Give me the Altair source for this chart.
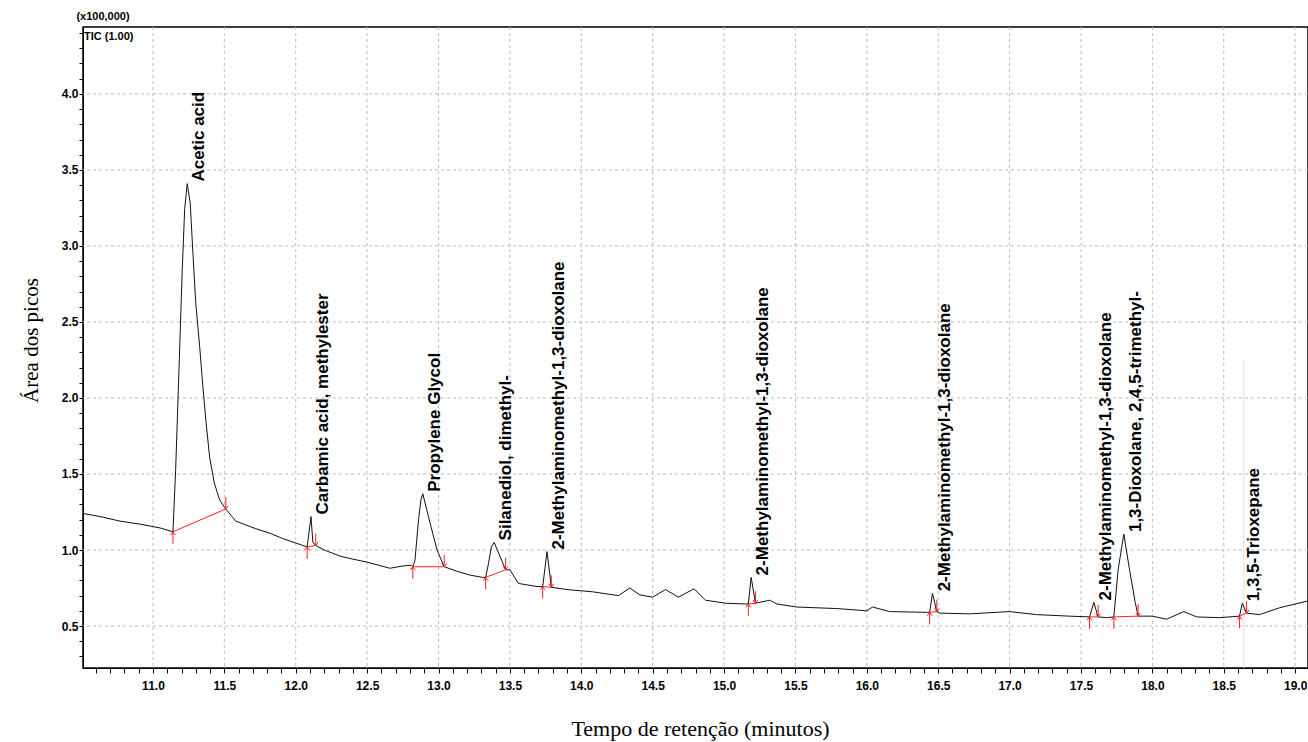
import altair as alt
import pandas as pd

# ---- chromatogram trace (retention time in minutes, intensity x100,000) ----
trace_t = [10.51, 10.63, 10.77, 10.91, 11.05, 11.14, 11.159, 11.182, 11.205, 11.222,
           11.24, 11.261, 11.28, 11.30, 11.327, 11.35, 11.373, 11.397, 11.43, 11.467,
           11.51, 11.58, 11.72, 11.82, 11.91, 12.05, 12.08, 12.107, 12.12, 12.14,
           12.20, 12.31, 12.40, 12.50, 12.66, 12.75, 12.81, 12.82, 12.835, 12.86,
           12.877, 12.89, 12.94, 12.99, 13.04, 13.13, 13.22, 13.31, 13.33, 13.35,
           13.37, 13.39, 13.43, 13.47, 13.50, 13.56, 13.69, 13.73, 13.76, 13.79,
           13.90, 14.08, 14.26, 14.34, 14.41, 14.50, 14.59, 14.68, 14.79, 14.87,
           15.01, 15.15, 15.17, 15.19, 15.22, 15.32, 15.37, 15.51, 15.79, 16.00,
           16.04, 16.16, 16.42, 16.44, 16.46, 16.49, 16.51, 16.72, 17.00, 17.19,
           17.42, 17.56, 17.59, 17.62, 17.68, 17.73, 17.76, 17.80, 17.84, 17.88,
           17.90, 18.00, 18.10, 18.22, 18.31, 18.47, 18.61, 18.63, 18.66, 18.75,
           18.89, 19.09]
trace_v = [1.24, 1.22, 1.19, 1.17, 1.145, 1.12, 1.53, 2.18, 2.84, 3.24,
           3.41, 3.28, 2.95, 2.62, 2.34, 2.07, 1.83, 1.61, 1.44, 1.33,
           1.27, 1.19, 1.14, 1.11, 1.075, 1.03, 1.02, 1.22, 1.05, 1.03,
           1.00, 0.96, 0.94, 0.92, 0.88, 0.895, 0.90, 0.89, 0.93, 1.20,
           1.33, 1.37, 1.18, 1.00, 0.89, 0.86, 0.835, 0.82, 0.82, 0.91,
           1.02, 1.05, 0.96, 0.87, 0.87, 0.78, 0.76, 0.76, 0.99, 0.755,
           0.74, 0.725, 0.70, 0.75, 0.705, 0.69, 0.74, 0.69, 0.745, 0.67,
           0.65, 0.645, 0.645, 0.82, 0.65, 0.67, 0.645, 0.625, 0.615, 0.60,
           0.625, 0.595, 0.59, 0.59, 0.715, 0.595, 0.585, 0.58, 0.595, 0.575,
           0.565, 0.56, 0.655, 0.56, 0.555, 0.56, 0.87, 1.105, 0.87, 0.655,
           0.565, 0.565, 0.545, 0.595, 0.56, 0.555, 0.565, 0.65, 0.585, 0.575,
           0.62, 0.665]

# ---- identified peaks ----
peak_names = ["Acetic acid", "Carbamic acid, methylester", "Propylene Glycol",
              "Silanediol, dimethyl-", "2-Methylaminomethyl-1,3-dioxolane",
              "2-Methylaminomethyl-1,3-dioxolane", "2-Methylaminomethyl-1,3-dioxolane",
              "2-Methylaminomethyl-1,3-dioxolane", "1,3-Dioxolane, 2,4,5-trimethyl-",
              "1,3,5-Trioxepane"]
apex_t = [11.24, 12.107, 12.89, 13.39, 13.76, 15.19, 16.46, 17.59, 17.80, 18.63]
apex_v = [3.41, 1.22, 1.37, 1.05, 0.99, 0.82, 0.715, 0.655, 1.105, 0.65]
start_t = [11.14, 12.08, 12.82, 13.33, 13.73, 15.17, 16.44, 17.56, 17.73, 18.61]
start_v = [1.12, 1.02, 0.89, 0.82, 0.76, 0.645, 0.59, 0.56, 0.56, 0.565]
end_t = [11.51, 12.14, 13.04, 13.47, 13.79, 15.22, 16.49, 17.62, 17.90, 18.66]
end_v = [1.27, 1.03, 0.89, 0.87, 0.755, 0.65, 0.595, 0.56, 0.565, 0.585]

# ---- axis ticks ----
x_ticks = [round(10.6 + 0.1 * i, 1) for i in range(85)]
y_ticks = [round(0.3 + 0.1 * i, 1) for i in range(42)]
x_grid = [11.0, 11.5, 12.0, 12.5, 13.0, 13.5, 14.0, 14.5, 15.0, 15.5,
          16.0, 16.5, 17.0, 17.5, 18.0, 18.5, 19.0]
y_grid = [0.5, 1.0, 1.5, 2.0, 2.5, 3.0, 3.5, 4.0]
cursor_t = [18.64]
cursor_top = [2.25]

X_DOMAIN = [10.51, 19.09]
Y_DOMAIN = [0.224, 4.44]

SANS = "'Liberation Sans', Arial, sans-serif"
SERIF = "'Liberation Serif', 'Times New Roman', serif"

trace = pd.DataFrame({"t": trace_t, "v": trace_v})
peaks = pd.DataFrame({"name": peak_names, "t": apex_t, "v": apex_v})
base = pd.concat([
    pd.DataFrame({"pk": range(len(start_t)), "t": start_t, "v": start_v}),
    pd.DataFrame({"pk": range(len(end_t)), "t": end_t, "v": end_v}),
]).sort_values(["pk", "t"])
starts = pd.DataFrame({"t": start_t, "v": start_v})
ends = pd.DataFrame({"t": end_t, "v": end_v})

major = "abs(datum.value*2 - round(datum.value*2)) < 0.01"
x_axis = alt.Axis(
    values=x_ticks, labelExpr=f"{major} ? format(datum.value, '.1f') : ''",
    grid=False, tickSize=5, tickColor="#000", domainColor="#000",
    labelFont=SANS, labelFontWeight="bold", labelFontSize=12, labelColor="#000",
    labelPadding=7, labelOverlap=False, labelFlush=False,
    title="Tempo de retenção (minutos)", titleFont=SERIF, titleFontSize=22,
    titleFontWeight="normal", titleColor="#000", titleX=617, titleY=67,
    titleBaseline="alphabetic", titleAlign="center",
)
y_axis = alt.Axis(
    values=y_ticks, labelExpr=f"{major} ? format(datum.value, '.1f') : ''",
    grid=False, tickSize=4, tickColor="#000", domainColor="#000",
    labelFont=SANS, labelFontWeight="bold", labelFontSize=12, labelColor="#000",
    labelPadding=1, labelOverlap=False, labelFlush=False,
    title="Área dos picos", titleFont=SERIF, titleFontSize=21,
    titleFontWeight="normal", titleColor="#000", titleX=-46, titleY=313,
    titleAngle=270, titleBaseline="alphabetic", titleAlign="center",
)
X = alt.X("t:Q", scale=alt.Scale(domain=X_DOMAIN, nice=False, zero=False), axis=x_axis)
Y = alt.Y("v:Q", scale=alt.Scale(domain=Y_DOMAIN, nice=False, zero=False), axis=y_axis)

grid_x = alt.Chart(pd.DataFrame({"t": x_grid})).mark_rule(
    color="#bdbdbd", strokeDash=[3, 3], strokeWidth=1
).encode(x=X)
grid_y = alt.Chart(pd.DataFrame({"v": y_grid})).mark_rule(
    color="#bdbdbd", strokeDash=[3, 3], strokeWidth=1
).encode(y=Y)

cursor = alt.Chart(pd.DataFrame({"t": cursor_t, "v": cursor_top})).mark_rule(
    color="#e2e2e2", strokeWidth=1
).encode(x=X, y=Y, y2=alt.value(641))

line = alt.Chart(trace).mark_line(color="#111", strokeWidth=1).encode(
    x=X, y=Y, order="t:Q"
)

baselines = alt.Chart(base).mark_line(color="#ff2020", strokeWidth=1).encode(
    x=X, y=Y, detail="pk:N"
)

UP = "M0,0L0,2M-0.4,0.55L0,0L0.4,0.55"
DOWN = "M0,0L0,-2M-0.4,-0.55L0,0L0.4,-0.55"
up_marks = alt.Chart(starts).mark_point(
    shape=UP, filled=False, color="#ff2020", size=144, strokeWidth=1, opacity=1
).encode(x=X, y=Y)
down_marks = alt.Chart(ends).mark_point(
    shape=DOWN, filled=False, color="#ff2020", size=144, strokeWidth=1, opacity=1
).encode(x=X, y=Y)

labels = alt.Chart(peaks).mark_text(
    angle=270, align="left", baseline="middle", dx=2, dy=12,
    font=SANS, fontSize=17, fontWeight="bold", color="#000"
).encode(x=X, y=Y, text="name:N")

scale_note = alt.Chart(pd.DataFrame({"s": ["(x100,000)"]})).mark_text(
    font=SANS, fontSize=11, fontWeight="bold", color="#000", align="center",
    baseline="middle"
).encode(x=alt.value(20), y=alt.value(-10), text="s:N")
tic_note = alt.Chart(pd.DataFrame({"s": ["TIC (1.00)"]})).mark_text(
    font=SANS, fontSize=11, fontWeight="bold", color="#000", align="left",
    baseline="middle"
).encode(x=alt.value(1), y=alt.value(10), text="s:N")

chart = alt.layer(
    grid_x, grid_y, cursor, line, baselines, up_marks, down_marks, labels,
    scale_note, tic_note
).properties(
    width=1225, height=641,
    padding={"left": 83, "top": 27, "right": 0, "bottom": 74},
    autosize=alt.AutoSizeParams(type="none"),
    background="white",
).configure_view(stroke="#000", strokeWidth=1.5)

chart.save("out.html", embed_options={"renderer": "svg", "actions": False})
